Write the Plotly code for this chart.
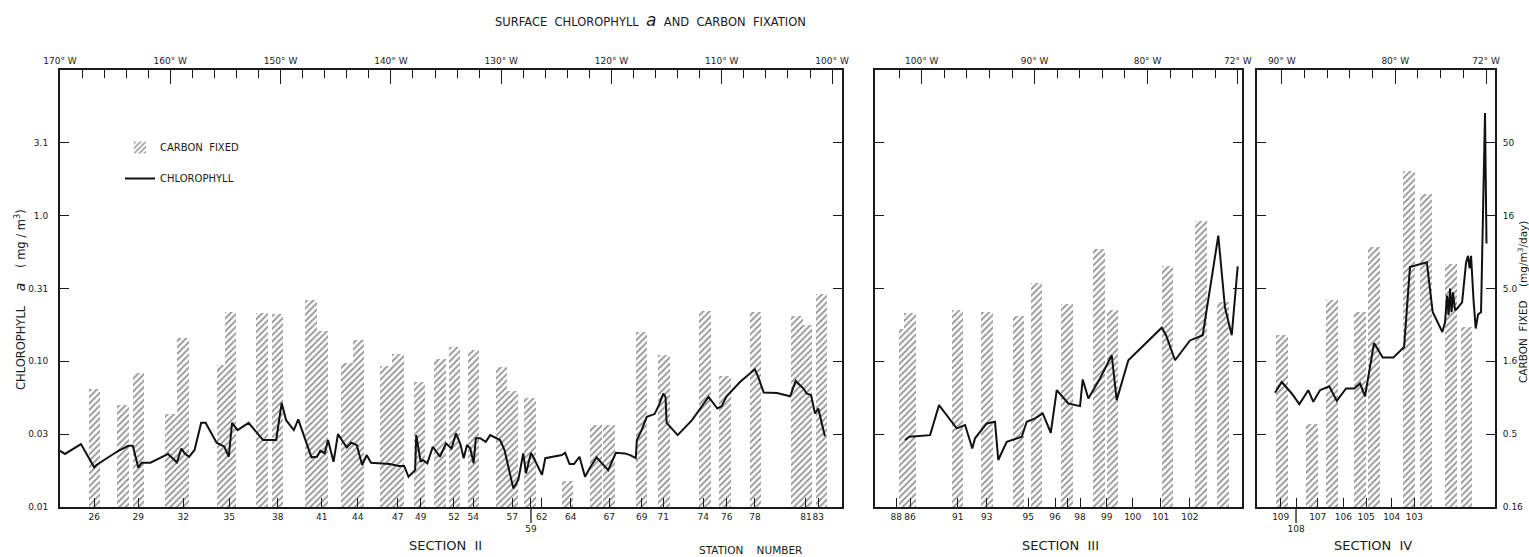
import plotly.graph_objects as go

# ---------------- data ----------------
# Section II: longitude (deg W) and surface chlorophyll a (mg/m3)
s2_chl_lon = [170.0, 169.55, 168.1, 166.9, 166.7, 164.7, 163.8, 163.4, 162.9, 162.6,
              161.8, 160.2, 159.4, 159.0, 158.7, 158.3, 157.8, 157.2, 156.8, 155.8,
              155.1, 154.7, 154.4, 153.9, 152.9, 151.6, 150.4, 149.9, 149.5, 148.8,
              148.4, 147.2, 146.7, 146.4, 146.0, 145.7, 145.2, 144.8, 144.0, 143.6,
              143.1, 142.6, 142.2, 141.8, 140.1, 139.3, 138.8, 138.4, 137.8, 137.7,
              137.3, 137.1, 136.7, 136.2, 135.55, 135.0, 134.5, 134.1, 133.7, 133.4,
              133.1, 132.8, 132.5, 132.3, 131.9, 131.4, 131.0, 130.1, 129.7, 128.9,
              128.45, 128.0, 127.75, 127.3, 127.1, 126.3, 126.0, 125.3, 124.5, 124.2,
              123.8, 123.4, 122.9, 122.4, 121.9, 121.35, 120.9, 120.3, 119.6, 118.8,
              118.3, 117.8, 117.7, 117.3, 116.8, 116.1, 115.7, 115.3, 115.1, 115.0,
              114.0, 112.7, 111.2, 110.4, 110.0, 109.6, 108.35, 107.0, 106.7, 106.2,
              105.0, 103.8, 103.3, 102.6, 102.3, 101.9, 101.55, 101.25, 100.65]
s2_chl = [0.0243, 0.0231, 0.0270, 0.0187, 0.0194, 0.0243, 0.0263, 0.0263, 0.0186, 0.0201,
          0.0201, 0.0231, 0.0202, 0.0252, 0.0233, 0.0221, 0.0246, 0.0378, 0.0378, 0.0276,
          0.0259, 0.0221, 0.0378, 0.0337, 0.0378, 0.0288, 0.0288, 0.0518, 0.0394, 0.0337,
          0.0399, 0.0219, 0.0221, 0.0243, 0.0233, 0.0288, 0.0204, 0.0316, 0.0256, 0.0276,
          0.0266, 0.0194, 0.0227, 0.0201, 0.0197, 0.0191, 0.0191, 0.0161, 0.0179, 0.0311,
          0.0204, 0.0210, 0.0199, 0.0259, 0.0221, 0.0273, 0.0252, 0.0320, 0.0270, 0.0216,
          0.0266, 0.0252, 0.0199, 0.0296, 0.0296, 0.0280, 0.0311, 0.0288, 0.0246, 0.0134,
          0.0153, 0.0233, 0.0170, 0.0235, 0.0221, 0.0166, 0.0216, 0.0221, 0.0227, 0.0235,
          0.0197, 0.0197, 0.0221, 0.0161, 0.0189, 0.0219, 0.0201, 0.0179, 0.0235, 0.0233,
          0.0227, 0.0216, 0.0288, 0.0333, 0.0415, 0.0434, 0.0500, 0.0601, 0.0569, 0.0378,
          0.0311, 0.0394, 0.0569, 0.0474, 0.0492, 0.0569, 0.0721, 0.0881, 0.0781, 0.0611,
          0.0605, 0.0575, 0.0733, 0.0650, 0.0601, 0.0585, 0.0438, 0.0474, 0.0306]
# Section II: carbon fixed (mg/m3/day)
s2_bar_lon = [166.87, 164.29, 162.88, 159.94, 158.85, 155.22, 154.54, 151.69, 150.28, 147.24,
              146.2, 143.98, 142.94, 140.44, 139.36, 137.41, 135.55, 134.23, 132.51, 129.97,
              128.97, 127.39, 123.99, 121.41, 120.23, 117.28, 115.24, 111.52, 109.71, 106.94,
              103.18, 102.32, 100.96]
s2_carbon = [1.04, 0.80, 1.32, 0.70, 2.30, 1.52, 3.47, 3.41, 3.36, 4.19,
             2.57, 1.55, 2.23, 1.48, 1.79, 1.15, 1.65, 2.0, 1.90, 1.46,
             1.0, 0.89, 0.24, 0.58, 0.58, 2.53, 1.76, 3.52, 1.26, 3.47,
             3.25, 2.82, 4.60]
s2_station_lon = [166.89, 162.9, 158.82, 154.65, 150.26, 146.27, 143.01, 139.38, 137.3, 134.28,
                  132.53, 129.0, 127.3, 126.33, 123.7, 120.2, 117.26, 115.3, 111.68, 109.56,
                  107.0, 102.37, 101.25]
s2_station = ["26", "29", "32", "35", "38", "41", "44", "47", "49", "52",
              "54", "57", "59", "62", "64", "67", "69", "71", "74", "76",
              "78", "81", "83"]

# Section III
s3_chl_lon = [101.48, 101.1, 99.26, 98.47, 96.9, 96.16, 95.52, 95.28, 94.24, 93.51,
              93.22, 92.47, 91.14, 90.7, 89.96, 89.28, 88.57, 88.04, 87.01, 85.98,
              85.74, 85.24, 84.21, 83.17, 82.73, 81.7, 78.74, 78.36, 77.56, 76.24,
              75.11, 73.73, 73.14, 72.54, 72.01]
s3_chl = [0.0288, 0.0303, 0.0311, 0.0500, 0.0346, 0.0365, 0.0252, 0.0296, 0.0374, 0.0384,
          0.0210, 0.0280, 0.0303, 0.0384, 0.0405, 0.0438, 0.0323, 0.0633, 0.0513, 0.0492,
          0.0750, 0.0555, 0.0761, 0.110, 0.0541, 0.1016, 0.170, 0.151, 0.1016, 0.139,
          0.151, 0.729, 0.235, 0.151, 0.448]
s3_bar_lon = [101.52, 101.04, 96.83, 94.22, 91.43, 89.83, 87.17, 84.3, 83.1, 78.23, 75.26, 73.31]
s3_carbon = [2.65, 3.41, 3.58, 3.48, 3.25, 5.50, 3.93, 9.5, 3.58, 7.27, 14.8, 4.08]
s3_station_lon = [102.25, 101.04, 96.81, 94.24, 90.56, 88.19, 87.1, 85.98, 83.61, 81.31, 78.83, 76.24]
s3_station = ["88", "86", "91", "93", "95", "96", "", "98", "99", "100", "101", "102"]

# Section IV
s4_chl_lon = [90.59, 90.0, 89.12, 88.45, 87.66, 87.22, 86.63, 85.81, 85.15, 84.33,
              83.6, 83.1, 82.66, 81.87, 81.1, 80.17, 79.22, 78.7, 77.22, 76.7,
              75.85, 75.61, 75.44, 75.3, 75.17, 75.04, 74.91, 74.73, 74.55, 74.11,
              73.76, 73.59, 73.45, 73.32, 73.1, 72.91, 72.7, 72.44, 72.09, 71.96]
s4_chl = [0.0607, 0.0721, 0.0601, 0.0508, 0.0633, 0.0527, 0.0633, 0.0674, 0.0535, 0.0650,
          0.0650, 0.0703, 0.0575, 0.1334, 0.106, 0.106, 0.1253, 0.443, 0.479, 0.218,
          0.159, 0.185, 0.283, 0.207, 0.316, 0.217, 0.297, 0.224, 0.23, 0.254,
          0.477, 0.53, 0.434, 0.53, 0.262, 0.168, 0.210, 0.217, 5.07, 0.643]
s4_bar_lon = [89.97, 87.31, 85.59, 83.08, 81.85, 78.77, 77.3, 75.1, 73.72]
s4_carbon = [2.41, 0.59, 4.23, 3.48, 9.8, 32.5, 22.5, 7.47, 2.75]
s4_station_lon = [90.09, 88.74, 86.83, 84.57, 82.57, 80.31, 78.32]
s4_station = ["109", "108", "107", "106", "105", "104", "103"]

# axis tick values
chl_ticks = [0.01, 0.0316, 0.1, 0.316, 1.0, 3.16]
chl_ticktext = ["0.01", "0.03", "0.10", "0.31", "1.0", "3.1"]
carbon_ticks = [0.16, 0.506, 1.6, 5.06, 16, 50.6]
carbon_ticktext = ["0.16", "0.5", "1.6", "5.0", "16", "50"]

# ---------------- layout helpers ----------------
W, H = 1529, 557
FONT = "DejaVu Sans"
INK = "#1a1a1a"


def fx(p):
    return p / W


def fy(p):
    return 1 - p / H


PLOT_TOP, PLOT_BOTTOM = 70, 507
CHL_RANGE = [-2.0006, 1.0]
CARBON_RANGE = [-0.79648, 2.20412]

panels = [
    dict(px=(60, 842), rng=[170, 99.1], major=[170, 160, 150, 140, 130, 120, 110, 100],
         minor=list(range(168, 99, -2)),
         bar_lon=s2_bar_lon, carbon=s2_carbon, chl_lon=s2_chl_lon, chl=s2_chl,
         st_lon=s2_station_lon, st=s2_station, second_row={"59"}),
    dict(px=(875, 1242), rng=[104.14, 71.63], major=[100, 90, 80, 72],
         minor=[102, 98, 96, 94, 92, 88, 86, 84, 82, 78, 76, 74],
         bar_lon=s3_bar_lon, carbon=s3_carbon, chl_lon=s3_chl_lon, chl=s3_chl,
         st_lon=s3_station_lon, st=s3_station, second_row=set()),
    dict(px=(1257, 1495), rng=[92.18, 71.21], major=[90, 80, 72],
         minor=[88, 86, 84, 82, 78, 76, 74],
         bar_lon=s4_bar_lon, carbon=s4_carbon, chl_lon=s4_chl_lon, chl=s4_chl,
         st_lon=s4_station_lon, st=s4_station, second_row={"108"}),
]

fig = go.Figure()
layout = {}
shapes = []
ydom = [fy(PLOT_BOTTOM), fy(PLOT_TOP)]
tickfont = dict(family=FONT, size=9, color=INK)
common = dict(showline=True, linecolor=INK, linewidth=2, showgrid=False, zeroline=False,
              automargin=False, tickangle=0, tickcolor=INK, tickwidth=1.3,
              tickfont=tickfont)

for i, p in enumerate(panels):
    nb, no = 2 * i + 1, 2 * i + 2
    xb = "x" if nb == 1 else f"x{nb}"
    yb = "y" if nb == 1 else f"y{nb}"
    xo, yo = f"x{no}", f"y{no}"
    dom = [fx(p["px"][0]), fx(p["px"][1])]

    # carbon fixed: hatched bars on the base (right-hand) axis
    fig.add_trace(go.Bar(
        x=p["bar_lon"], y=p["carbon"], width=1.05, xaxis=xb, yaxis=yb,
        name="CARBON\u00a0\u00a0FIXED", legendgroup="carbon", showlegend=(i == 0),
        marker=dict(color="white", line=dict(width=0),
                    pattern=dict(shape="/", fgcolor="#2e2e2e", bgcolor="white",
                                 size=4.5, solidity=0.4)),
        hoverinfo="skip"))
    # chlorophyll line on the overlaid (left-hand) axis
    fig.add_trace(go.Scatter(
        x=p["chl_lon"], y=p["chl"], xaxis=xo, yaxis=yo, mode="lines",
        name="CHLOROPHYLL", legendgroup="chl", showlegend=(i == 0),
        line=dict(color="#111111", width=2), hoverinfo="skip"))

    ticktext = [("\u00a0<br>" + s) if s in p["second_row"] else s for s in p["st"]]
    layout["xaxis" if nb == 1 else f"xaxis{nb}"] = dict(
        domain=dom, range=p["rng"], anchor=yb, side="bottom",
        tickmode="array", tickvals=p["st_lon"], ticktext=ticktext,
        ticks="inside", ticklen=9, **common)
    layout[f"xaxis{no}"] = dict(
        overlaying=xb, range=p["rng"], anchor=yo, side="top",
        tickmode="array", tickvals=p["major"],
        ticktext=[f"{v}° W" for v in p["major"]],
        ticks="inside", ticklen=14,
        minor=dict(tickmode="array", tickvals=p["minor"], ticks="inside",
                   ticklen=8, tickwidth=1.3, tickcolor=INK, showgrid=False),
        **common)
    layout["yaxis" if nb == 1 else f"yaxis{nb}"] = dict(
        domain=ydom, type="log", range=CARBON_RANGE, anchor=xb, side="right",
        tickmode="array", tickvals=carbon_ticks[1:] if i < 2 else carbon_ticks,
        ticktext=carbon_ticktext[1:] if i < 2 else carbon_ticktext,
        showticklabels=(i == 2), ticks="inside", ticklen=9, ticklabelstandoff=4,
        **common)
    layout[f"yaxis{no}"] = dict(
        overlaying=yb, type="log", range=CHL_RANGE, anchor=xo, side="left",
        tickmode="array", tickvals=chl_ticks[1:] if i > 0 else chl_ticks,
        ticktext=chl_ticktext[1:] if i > 0 else chl_ticktext,
        showticklabels=(i == 0), ticks="inside", ticklen=9, ticklabelstandoff=8,
        **common)

    # leader lines for the station labels set on a second row
    for lon, s in zip(p["st_lon"], p["st"]):
        if s in p["second_row"]:
            shapes.append(dict(type="line", xref=xb, yref="paper", x0=lon, x1=lon,
                               y0=fy(PLOT_BOTTOM), y1=fy(PLOT_BOTTOM + 16),
                               line=dict(color=INK, width=1.3)))


def label(text, x, y, size, angle=0):
    return dict(text=text, x=fx(x), y=fy(y), xref="paper", yref="paper",
                xanchor="center", yanchor="middle",
                showarrow=False, textangle=angle,
                font=dict(family=FONT, size=size, color=INK))


nb2 = "\u00a0\u00a0"
annotations = [
    label(f"SURFACE{nb2}CHLOROPHYLL{nb2}<span style='font-size:17px'><i>a</i></span>"
          f"{nb2}AND{nb2}CARBON{nb2}FIXATION", 650, 20, 11.5),
    label(f"CHLOROPHYLL{nb2}{nb2}<span style='font-size:14px'><i>a</i></span>{nb2}{nb2}"
          f"(\u00a0mg\u00a0/\u00a0m<sup>3</sup>)", 20, 300, 11.5, -90),
    label(f"CARBON{nb2}FIXED{nb2}{nb2}(mg/m<sup>3</sup>/day)", 1522, 302, 10.5, -90),
    label("SECTION\u00a0\u00a0II", 445, 545, 13),
    label(f"STATION{nb2}{nb2}NUMBER", 750, 550, 10.5),
    label("SECTION\u00a0\u00a0III", 1060, 545, 13),
    label("SECTION\u00a0\u00a0IV", 1373, 545, 13),
]

fig.update_layout(
    width=W, height=H, margin=dict(l=0, r=0, t=0, b=0, autoexpand=False),
    paper_bgcolor="white", plot_bgcolor="white",
    barmode="overlay", bargap=0,
    font=dict(family=FONT, color=INK),
    legend=dict(x=fx(120), y=fy(133), xanchor="left", yanchor="top",
                bgcolor="rgba(0,0,0,0)", font=dict(family=FONT, size=10, color=INK),
                tracegroupgap=12, itemwidth=30),
    annotations=annotations, shapes=shapes,
    **layout)

fig.write_html("out.html")
